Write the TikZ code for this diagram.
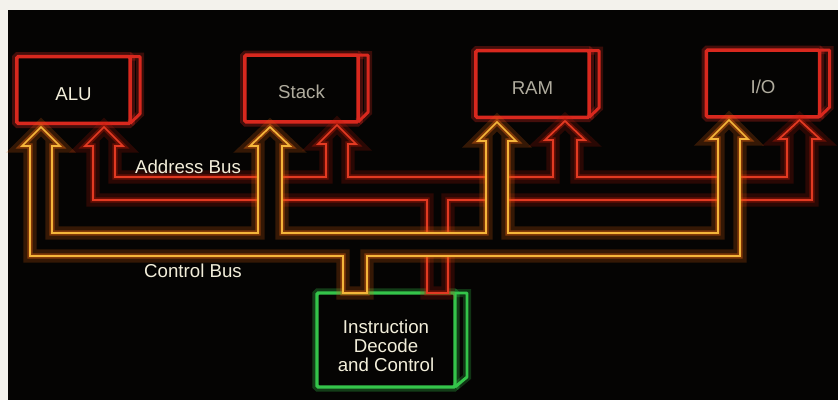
\documentclass[tikz,border=0pt]{standalone}
\usepackage{fontspec}
\setmainfont{Liberation Sans}
\usetikzlibrary{positioning}
\definecolor{panelblack}{HTML}{050403}
\definecolor{paperwhite}{HTML}{F3F2EC}
\definecolor{unitred}{HTML}{D8281E}
\definecolor{addrred}{HTML}{E23A22}
\definecolor{addrglow}{HTML}{C01A08}
\definecolor{ctrlyellow}{HTML}{F4B53A}
\definecolor{ctrlglow}{HTML}{E0620E}
\definecolor{decodegreen}{HTML}{34C44A}
\definecolor{lbltext}{HTML}{F2EEDA}
\tikzset{
  glowbox/.style  = {draw=#1, line width=2.6pt, rounded corners=1pt,
                     outer sep=0pt, fill=panelblack, text=lbltext,
                     font=\fontsize{14}{14}\selectfont,
                     preaction={draw=#1, line width=7pt, draw opacity=0.3}},
  unitbox/.style  = {glowbox=unitred, minimum width=85pt, minimum height=50pt,
                     text height=15pt, text depth=0pt},
  decbox/.style   = {glowbox=decodegreen, minimum width=103.5pt,
                     minimum height=70.5pt, align=center},
  unitside/.style = {draw=#1, line width=2.2pt, line join=round,
                     preaction={draw=#1, line width=6pt, draw opacity=0.25}},
  busline/.style  = {draw=#1, line width=1.3pt, line join=miter,
                     preaction={fill=panelblack}},
  addrbus/.style  = {busline=addrred,
                     preaction={draw=addrglow, line width=10pt, draw opacity=0.2},
                     preaction={draw=addrglow, line width=4pt, draw opacity=0.4}},
  ctrlbus/.style  = {busline=ctrlyellow,
                     preaction={draw=ctrlglow, line width=10pt, draw opacity=0.22},
                     preaction={draw=ctrlglow, line width=4pt, draw opacity=0.45}},
  uparrow/.style n args = {3}{insert path={-- (#1,#3+19) -- (#1-8,#3+19)
                     -- ({(#1+#2)/2},#3) -- (#2+8,#3+19) -- (#2,#3+19)}},
  buslbl/.style   = {text=lbltext, font=\fontsize{14}{14}\selectfont},
  dimlbl/.style   = {text=lbltext!72!panelblack}
}
\begin{document}
\begin{tikzpicture}[x=0.75pt, y=-0.75pt]
  \useasboundingbox (0,0) rectangle (838,400);
  \fill[paperwhite] (0,0) rectangle (838,400);
  \fill[panelblack] (8,10) rectangle (838,400);

  % units and decoder
  \node[unitbox]         (alu)   at (73.5,90)  {ALU};
  \node[unitbox, dimlbl] (stack) at (301.5,88.5) {Stack};
  \node[unitbox, dimlbl] (ram)   at (532.5,84) {RAM};
  \node[unitbox, dimlbl] (io)    at (763,83.5) {I/O};
  \node[decbox]          (idc)   at (386,340)
        {\rule{0pt}{19pt}Instruction\\Decode\\and Control};

  \draw[unitside=unitred] (alu.north east)   -- ++(10,0) -- ++(0,57) -- (alu.south east);
  \draw[unitside=unitred] (stack.north east) -- ++(10,0) -- ++(0,57) -- (stack.south east);
  \draw[unitside=unitred] (ram.north east)   -- ++(10,0) -- ++(0,57) -- (ram.south east);
  \draw[unitside=unitred] (io.north east)    -- ++(10,0) -- ++(0,57) -- (io.south east);
  \draw[unitside=decodegreen] (idc.north east) -- ++(12,0) -- ++(0,84) -- (idc.south east);

  % address bus
  \draw[addrbus] (93,200) [uparrow={93}{115}{127}] -- (115,177)
     -- (326,177) [uparrow={326}{348}{125}] -- (348,177)
     -- (553,177) [uparrow={553}{577}{121}] -- (577,177)
     -- (787,177) [uparrow={787}{812}{120}] -- (812,200)
     -- (448,200) -- (448,0 |- idc.north) -- (427,0 |- idc.north) -- (427,200) -- cycle;

  % control bus
  \draw[ctrlbus] (30,256) [uparrow={30}{52}{127}] -- (52,233)
     -- (258,233) [uparrow={258}{282}{127}] -- (282,233)
     -- (486,233) [uparrow={486}{508}{122}] -- (508,233)
     -- (718,233) [uparrow={718}{740}{120}] -- (740,256)
     -- (367,256) -- (367,0 |- idc.north) -- (343,0 |- idc.north) -- (343,256) -- cycle;

  \node[buslbl] (addrlbl) at (188,167) {Address Bus};
  \node[buslbl] (ctrllbl) at (193,271) {Control Bus};
\end{tikzpicture}
\end{document}
